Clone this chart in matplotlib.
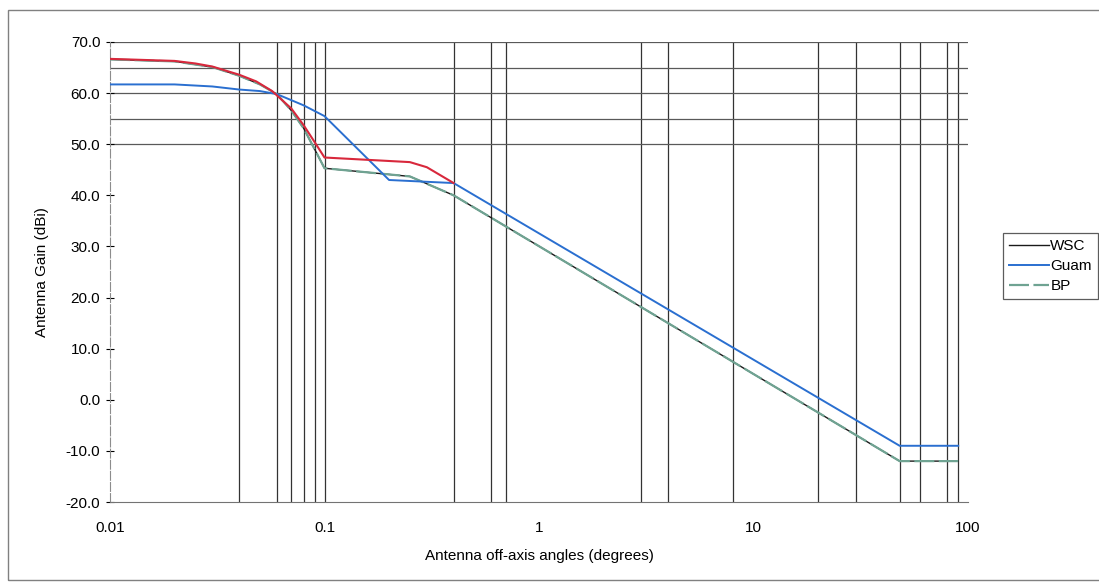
import matplotlib

matplotlib.use("Agg")
import matplotlib.pyplot as plt
from matplotlib.patches import Rectangle

plt.rcParams["font.family"] = ["Liberation Sans", "DejaVu Sans"]

# red curve (drawn in the scan, not in the legend)
red_x = [0.01, 0.02, 0.025, 0.03, 0.04, 0.048, 0.057, 0.07, 0.08, 0.09, 0.1, 0.25, 0.3, 0.4]
red_y = [66.7, 66.3, 65.8, 65.2, 63.6, 62.3, 60.4, 57.0, 53.7, 50.4, 47.4, 46.5, 45.5, 42.4]

# WSC / BP share the same path in the picture
bp_x = [0.01, 0.02, 0.03, 0.04, 0.05, 0.06, 0.07, 0.08, 0.09, 0.1, 0.25, 0.4, 48, 90]
bp_y = [66.6, 66.2, 65.1, 63.4, 61.7, 59.8, 56.6, 53.1, 49.0, 45.3, 43.7, 40.0, -12.0, -12.0]
wsc_x = bp_x
wsc_y = bp_y

guam_x = [0.01, 0.02, 0.03, 0.04, 0.05, 0.06, 0.08, 0.1, 0.2, 0.4, 48, 90]
guam_y = [61.7, 61.7, 61.3, 60.7, 60.4, 59.8, 57.6, 55.5, 43.0, 42.4, -9.0, -9.0]

# grid lines that survive in the scan
vlines = [0.04, 0.06, 0.07, 0.08, 0.09, 0.1, 0.4, 0.6, 0.7, 3, 4, 8, 20, 30, 48, 60, 80, 90]
hlines = [50, 55, 60, 65, 70]

yticks = [70, 60, 50, 40, 30, 20, 10, 0, -10, -20]
xticks = [0.01, 0.1, 1, 10, 100]
xticklabels = ["0.01", "0.1", "1", "10", "100"]

fig = plt.figure(figsize=(10.99, 5.88), dpi=100)
ax = fig.add_axes([110 / 1099, 1 - 502 / 588, (968 - 110) / 1099, (502 - 42) / 588])

for v in vlines:
    ax.axvline(v, color="0.2", lw=0.9, zorder=1)
for h in hlines:
    ax.axhline(h, color="0.35", lw=0.9, zorder=1)

ax.plot(red_x, red_y, color="#d8283c", lw=1.5, zorder=5, label="_nolegend_")
ax.plot(wsc_x, wsc_y, color="0.1", lw=1.0, zorder=2, label="WSC")
ax.plot(guam_x, guam_y, color="#2a6fd0", lw=1.4, zorder=4, label="Guam")
ax.plot(bp_x, bp_y, color="#6fa392", lw=1.6, ls=(0, (9, 2)), zorder=3, label="BP")

ax.set_xscale("log")
ax.set_xlim(0.01, 100)
ax.set_ylim(-20, 70)
ax.set_xticks(xticks)
ax.set_xticklabels(xticklabels)
ax.minorticks_off()
ax.set_yticks(yticks)
ax.set_yticklabels([f"{t:.1f}" for t in yticks])
ax.tick_params(axis="y", direction="inout", length=6, width=0.8, labelsize=11, pad=4)
ax.tick_params(axis="x", length=0, labelsize=11, pad=14)

for side in ("top", "right"):
    ax.spines[side].set_visible(False)
ax.spines["left"].set_color("0.55")
ax.spines["left"].set_linestyle((0, (8, 2)))
ax.spines["bottom"].set_color("0.45")

ax.set_ylabel("Antenna Gain (dBi)", fontsize=11, labelpad=12)
ax.set_xlabel("Antenna off-axis angles (degrees)", fontsize=11, labelpad=10)

leg = fig.legend(
    loc="center left", bbox_to_anchor=(1003 / 1099, 1 - 266 / 588),
    fontsize=11, frameon=True, fancybox=False, handlelength=2.6,
    handletextpad=0.1, borderpad=0.4, labelspacing=0.4, borderaxespad=0,
)
leg.get_frame().set_edgecolor("0.2")
leg.get_frame().set_linewidth(0.9)

# outer chart frame from the scan
fig.add_artist(Rectangle((8 / 1099, 1 - 580 / 588), 1.2, (580 - 10) / 588,
                         transform=fig.transFigure, fill=False, ec="0.5", lw=1))

fig.savefig("out.png", dpi=100)
